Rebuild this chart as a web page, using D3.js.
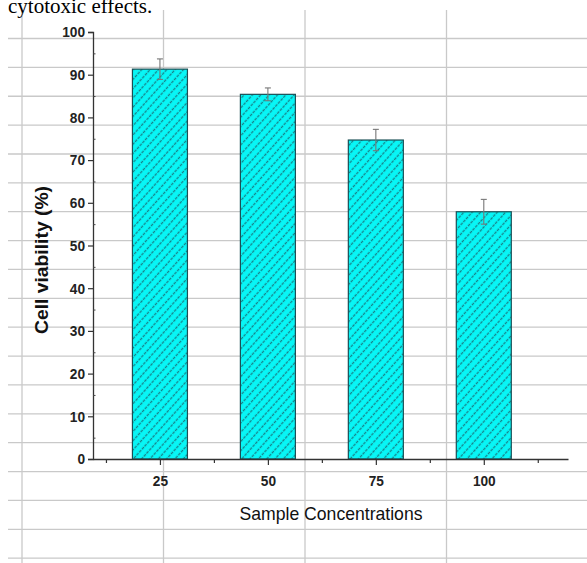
<!DOCTYPE html>
<html><head><meta charset="utf-8">
<script src="https://cdn.jsdelivr.net/npm/d3@7"></script>
<style>
html,body{margin:0;padding:0;background:#fff;}
svg{display:block;}
</style></head>
<body>
<svg id="c" width="587" height="563"></svg>
<script>
const categories = ["25", "50", "75", "100"];
const viability = [91.3, 85.4, 74.7, 57.9];
const errors = [2.4, 1.5, 2.5, 2.9];
const yTicks = [0, 10, 20, 30, 40, 50, 60, 70, 80, 90, 100];
const yMinorTicks = [5, 15, 25, 35, 45, 55, 65, 75, 85, 95];
const xMinorTicks = [-0.5, 0.5, 1.5, 2.5, 3.5];

const svg = d3.select("#c");
const W = 587, H = 563;

// background page grid (document table lines)
const grid = svg.append("g").attr("stroke", "#c9c9c9").attr("stroke-width", 1.3);
const hLines = d3.range(19).map(k => 38.5 + 28.87 * k);
grid.selectAll("line.h").data(hLines).join("line")
  .attr("x1", 8).attr("x2", W).attr("y1", d => d).attr("y2", d => d);
const vLines = [22, 163.5, 305, 446.5];
grid.selectAll("line.v").data(vLines).join("line")
  .attr("x1", d => d).attr("x2", d => d).attr("y1", 10).attr("y2", H);

// caption fragment (cut at the top as in the source)
svg.append("text").attr("x", 8).attr("y", 13)
  .attr("font-family", "Liberation Serif, Times New Roman, serif")
  .attr("font-size", 21).attr("fill", "#000").text("cytotoxic effects.");

// hatch pattern
const defs = svg.append("defs");
const pat = defs.append("pattern").attr("id", "hatch")
  .attr("patternUnits", "userSpaceOnUse").attr("width", 6.2).attr("height", 8)
  .attr("patternTransform", "rotate(42)");
pat.append("rect").attr("width", 6.2).attr("height", 8).attr("fill", "#08f6f6");
pat.append("line").attr("x1", 3.1).attr("x2", 3.1).attr("y1", 0).attr("y2", 8)
  .attr("stroke", "#17838a").attr("stroke-width", 1.3).attr("stroke-dasharray", "3,1");

const x = d3.scaleLinear().domain([-0.62, 3.78]).range([93, 568]);
const y = d3.scaleLinear().domain([0, 100]).range([459, 32]);
const bw = 55;

// bars
svg.append("g").selectAll("rect").data(viability).join("rect")
  .attr("x", (d, i) => x(i) - bw / 2).attr("width", bw)
  .attr("y", d => y(d)).attr("height", d => y(0) - y(d))
  .attr("fill", "url(#hatch)").attr("stroke", "#1a4f55").attr("stroke-width", 1.2);

// error bars
const eb = svg.append("g").attr("stroke", "#777").attr("stroke-width", 1.1);
viability.forEach((v, i) => {
  eb.append("line").attr("x1", x(i)).attr("x2", x(i)).attr("y1", y(v + errors[i])).attr("y2", y(v - errors[i]));
  eb.append("line").attr("x1", x(i) - 3).attr("x2", x(i) + 3).attr("y1", y(v + errors[i])).attr("y2", y(v + errors[i]));
  eb.append("line").attr("x1", x(i) - 3).attr("x2", x(i) + 3).attr("y1", y(v - errors[i])).attr("y2", y(v - errors[i]));
});

const tickFont = "Liberation Sans, Arial, sans-serif";
const condense = sel => sel.attr("textLength", function () { return this.textContent.length * 7.6; })
  .attr("lengthAdjust", "spacingAndGlyphs");

// y axis
const yAxis = svg.append("g").attr("transform", "translate(93,0)")
  .call(d3.axisLeft(y).tickValues(yTicks).tickSize(5).tickPadding(3).tickFormat(d3.format("d")));
yAxis.selectAll("text").attr("font-family", tickFont).attr("font-weight", "bold").attr("font-size", 15).attr("fill", "#222").call(condense);
yAxis.select(".domain").attr("stroke", "#333").attr("stroke-width", 1.3);
yAxis.selectAll(".tick line").attr("stroke", "#333").attr("stroke-width", 1.2);
const yMin = svg.append("g").attr("transform", "translate(93,0)")
  .call(d3.axisRight(y).tickValues(yMinorTicks).tickSize(2.5).tickFormat(""));
yMin.select(".domain").remove();
yMin.selectAll(".tick line").attr("stroke", "#444");

// x axis
const xAxis = svg.append("g").attr("transform", "translate(0,459)")
  .call(d3.axisBottom(x).tickValues([0, 1, 2, 3]).tickSize(6).tickPadding(10).tickSizeOuter(0)
    .tickFormat(i => categories[i]));
xAxis.selectAll("text").attr("font-family", tickFont).attr("font-weight", "bold").attr("font-size", 15).attr("fill", "#222").call(condense);
xAxis.select(".domain").attr("stroke", "#333").attr("stroke-width", 1.3);
xAxis.selectAll(".tick line").attr("stroke", "#333").attr("stroke-width", 1.2);
const xMin = svg.append("g").attr("transform", "translate(0,459)")
  .call(d3.axisBottom(x).tickValues(xMinorTicks).tickSize(4).tickFormat(""));
xMin.select(".domain").remove();
xMin.selectAll(".tick line").attr("stroke", "#333").attr("stroke-width", 1.2);

// axis titles
svg.append("text").attr("transform", "translate(48,260) rotate(-90)")
  .attr("text-anchor", "middle").attr("font-family", tickFont)
  .attr("font-weight", "bold").attr("font-size", 18).attr("fill", "#111")
  .attr("textLength", 148).attr("lengthAdjust", "spacingAndGlyphs")
  .text("Cell viability (%)");
svg.append("text").attr("x", 331).attr("y", 520)
  .attr("text-anchor", "middle").attr("font-family", tickFont)
  .attr("font-size", 19).attr("fill", "#111")
  .attr("textLength", 183).attr("lengthAdjust", "spacingAndGlyphs")
  .text("Sample Concentrations");
</script>
</body></html>
